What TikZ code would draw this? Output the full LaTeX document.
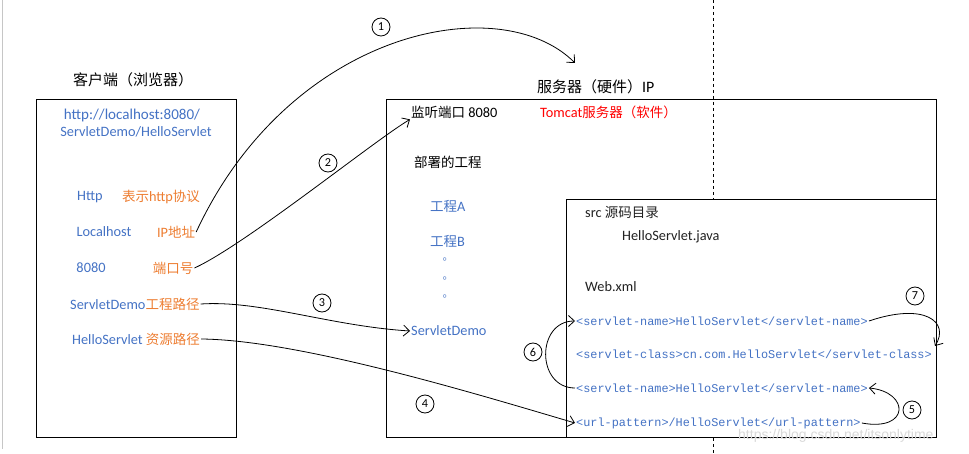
\documentclass[tikz,border=0pt]{standalone}
\usepackage{fontspec}
\setmainfont{Carlito}[Scale=1.06]
\newfontfamily\cjk{Noto Sans CJK SC}
\newfontfamily\mono{Liberation Mono}
\newfontfamily\wm{Liberation Sans}
\usetikzlibrary{arrows.meta}
\definecolor{tblue}{HTML}{4472C4}
\definecolor{torange}{HTML}{ED7D31}
\definecolor{tred}{HTML}{FF0000}
\definecolor{tdark}{HTML}{222222}
\tikzset{
  box/.style={draw=black,line width=1pt},
  txt/.style={inner sep=1pt,font=\fontsize{13.5}{15}\selectfont},
  ttl/.style={inner sep=1pt,font=\fontsize{15}{17}\selectfont},
  bluet/.style={txt,text=tblue},
  oranget/.style={txt,text=torange},
  dott/.style={inner sep=0pt,text=tblue,font=\cjk\fontsize{11}{12}\selectfont},
  code/.style={inner sep=1pt,anchor=west,text=tblue,font=\mono\fontsize{11.85}{13}\selectfont},
  hand/.style={line width=0.8pt,-{Straight Barb[length=6pt,width=11pt]}},
  num/.style={draw,circle,line width=0.8pt,minimum size=18pt,inner sep=0pt,font=\fontsize{11.5}{12}\selectfont},
}
\begin{document}
\begin{tikzpicture}[x=1pt,y=-1pt]
\useasboundingbox (0,0) rectangle (969,454);
% left gray margin line
\draw[gray!45,line width=1.2pt] (2.5,0) -- (2.5,449);
% dashed separator
\draw[dashed,line width=0.9pt] (713,0) -- (713,454);
% boxes
\draw[box] (36,100) rectangle (236,437);
\draw[box] (386,100) rectangle (936,437);
\draw[box,fill=white] (566,200) rectangle (936,437);

% client
\node[ttl] (ctitle) at (133,80) {\cjk 客户端（浏览器）};
\node[bluet,font=\fontsize{14.2}{16}\selectfont] (url1) at (132,115) {http://localhost:8080/};
\node[bluet] (url2) at (136,132) {ServletDemo/HelloServlet};
\node[bluet] (http) at (90,197) {Http};
\node[oranget] (proto) at (161,197) {{\cjk 表示}http{\cjk 协议}};
\node[bluet] (lh) at (104,232) {Localhost};
\node[oranget] (ip) at (176,232) {IP{\cjk 地址}};
\node[bluet] (p8080) at (91,268) {8080};
\node[oranget] (port) at (173,268) {\cjk 端口号};
\node[txt,anchor=west] (demo) at (69,304) {\textcolor{tblue}{ServletDemo}\textcolor{torange}{\cjk 工程路径}};
\node[txt,anchor=west] (res) at (71,339) {\textcolor{tblue}{HelloServlet }\textcolor{torange}{\cjk 资源路径}};

% server
\node[ttl,anchor=west] (stitle) at (536,87) {{\cjk 服务器（硬件）}IP};
\node[txt,anchor=west] (listen) at (410,112) {{\cjk 监听端口} 8080};
\node[txt,anchor=west,text=tred] (tomcat) at (539,112) {Tomcat{\cjk 服务器（软件）}};
\node[txt,anchor=west] (deploy) at (413,162) {\cjk 部署的工程};
\node[bluet,anchor=west] (pa) at (429,206) {{\cjk 工程}A};
\node[bluet,anchor=west] (pb) at (429,241) {{\cjk 工程}B};
\node[dott] (d1) at (448,259) {。};
\node[dott] (d2) at (448,278) {。};
\node[dott] (d3) at (448,296) {。};
\node[bluet,anchor=west] (sdemo) at (410,331) {ServletDemo};

% src
\node[txt,anchor=west,text=tdark] (src) at (584,212) {src {\cjk 源码目录}};
\node[txt,anchor=west,text=tdark] (java) at (621,237) {HelloServlet.java};
\node[txt,anchor=west,text=tdark] (webxml) at (584,287) {Web.xml};
\node[code] (c1) at (575,321) {<servlet-name>HelloServlet</servlet-name>};
\node[code] (c2) at (575,354) {<servlet-class>cn.com.HelloServlet</servlet-class>};
\node[code] (c3) at (575,388) {<servlet-name>HelloServlet</servlet-name>};
\node[code] (c4) at (575,423) {<url-pattern>/HelloServlet</url-pattern>};

% watermark
\node[inner sep=0pt,anchor=west,text=gray!30,font=\wm\fontsize{14}{16}\selectfont] (wmk) at (738,436) {https://blog.csdn.net/itsonlytime};

% arrows
\coordinate (a1end) at (575,63);
\coordinate (a7end) at (935,346);
\draw[hand] (ip.east) .. controls (290,30) and (500,-12) .. (a1end);
\draw[hand] (port.east) .. controls (245,245) and (375,140) .. (listen.south west);
\draw[hand] (demo.east) .. controls (260,300) and (330,326) .. (sdemo.west);
\draw[hand] (res.east) .. controls (300,340) and (480,395) .. (c4.west);
\draw[hand] (c4.east) .. controls (910,432) and (910,392) .. (c3.east);
\draw[hand] (c3.west) .. controls (536,388) and (536,321) .. (c1.west);
\draw[hand] (c1.east) .. controls (925,302) and (950,322) .. (a7end);

% step numbers
\node[num] (n1) at (381,27) {1};
\node[num] (n2) at (328,163) {2};
\node[num] (n3) at (322,303) {3};
\node[num] (n4) at (425,404) {4};
\node[num] (n5) at (912,410) {5};
\node[num] (n6) at (533,352) {6};
\node[num] (n7) at (915,296) {7};
\end{tikzpicture}
\end{document}
